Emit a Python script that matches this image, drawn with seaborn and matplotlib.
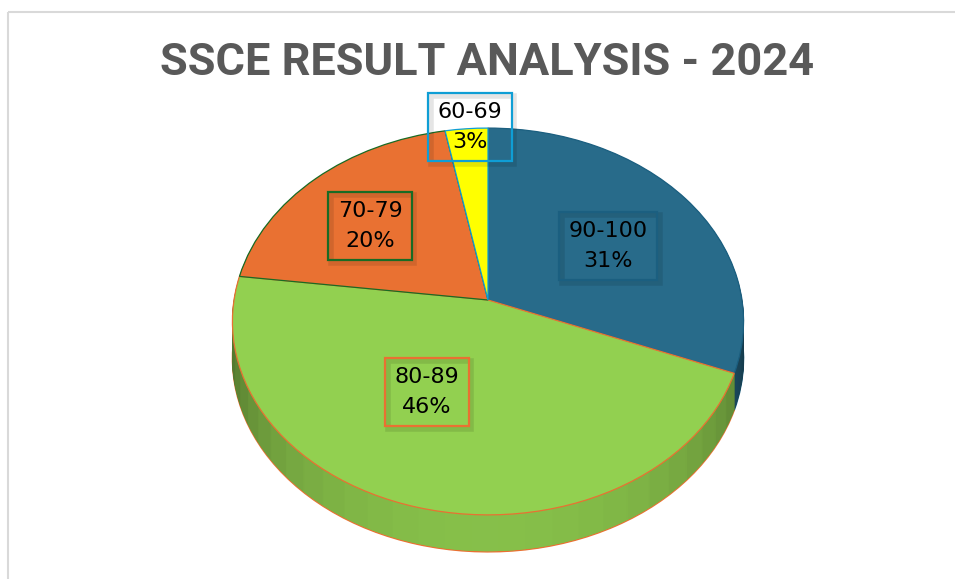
import numpy as np
import matplotlib
matplotlib.use("Agg")
import matplotlib.pyplot as plt
import seaborn as sns
from matplotlib import transforms as mtransforms
from matplotlib import patheffects as pe
from matplotlib.patches import Rectangle
from matplotlib.colors import to_rgb

# ---------------- data ----------------
categories = ["90-100", "80-89", "70-79", "60-69"]
shares = [31, 46, 20, 3]
pct_labels = ["31%", "46%", "20%", "3%"]
title_text = "SSCE RESULT ANALYSIS - 2024"

# ---------------- style ----------------
face_colors = ["#286b8a", "#92d050", "#e97132", "#ffff00"]
edge_colors = ["#1b5f80", "#e97132", "#196b24", "#0f9ed5"]
label_xy = [(608, 246), (427, 392), (370, 226), (470, 127)]

sns.set_theme(style="white")
plt.rcParams["font.family"] = ["DejaVu Sans"]

W, H = 955, 579
fig = plt.figure(figsize=(W / 100, H / 100), dpi=100)
ax = fig.add_axes([0, 0, 1, 1])

CX, CY, A, B, K, DEPTH = 488, 300, 254, 191, 0.111, 37


class Tilt(mtransforms.Transform):
    """Perspective tilt of the unit pie disk into pixel space."""
    input_dims = 2
    output_dims = 2
    is_separable = False
    has_inverse = False

    def __init__(self, dz=0.0):
        super().__init__()
        self.dz = dz

    def transform_non_affine(self, values):
        v = np.asarray(values, dtype=float).reshape(-1, 2)
        x, y = v[:, 0], v[:, 1]
        s = 1.0 / (1.0 + K * y)
        return np.column_stack([CX + A * x * s, CY - B * y * s + self.dz])


def shade(color, t):
    f = 0.45 + 0.47 * max(0.0, -np.sin(t)) ** 0.8
    r, g, b = to_rgb(color)
    return (r * f, g * f, b * f)


def draw_pie(values, colors, edges, lw, dz, z):
    wedges, _ = ax.pie(values, startangle=90, counterclock=False,
                       colors=colors, radius=1.0,
                       wedgeprops=dict(linewidth=lw))
    for w, ec in zip(wedges, edges):
        w.set_edgecolor(ec)
        w.set_transform(Tilt(dz) + ax.transData)
        w.set_zorder(z)
    return wedges


# side: split slices into thin sub-slices shaded by angle
N_SUB = 30
sub_vals, sub_cols = [], []
total = sum(shares)
cum = 0.0
for val, col in zip(shares, face_colors):
    for j in range(N_SUB):
        part = val / N_SUB
        mid = np.deg2rad(90 - 360 * (cum + part / 2) / total)
        sub_vals.append(part)
        sub_cols.append(shade(col, mid))
        cum += part

# bottom outline layer
mid_cols = [shade(c, np.deg2rad(-90)) for c in face_colors]
draw_pie(shares, mid_cols, edge_colors, 1.0, DEPTH, 1)
layers = np.arange(DEPTH - 1, 0, -1.0)
for i, dz in enumerate(layers):
    draw_pie(sub_vals, sub_cols, sub_cols, 0.6, dz, 2 + i * 0.001)

# top face
draw_pie(shares, face_colors, edge_colors, 0.9, 0, 5)

ax.set_aspect("auto")
ax.set_autoscale_on(False)
ax.set_xlim(0, W)
ax.set_ylim(H, 0)
ax.axis("off")

# chart frame
ax.add_patch(Rectangle((7.5, 11.5), 2000, 2000, fill=False,
                       edgecolor="#d9d9d9", linewidth=1.5, zorder=0))

# title
ax.text(487.5, 63, title_text, ha="center", va="center",
        fontsize=32.5, fontweight="bold", color="#595959",
        family=["Roboto", "DejaVu Sans"], zorder=10)

# data labels
for cat, pct, (lx, ly), ec in zip(categories, pct_labels, label_xy, edge_colors):
    t = ax.text(lx, ly, f"{cat}\n{pct}", ha="center", va="center",
                fontsize=16, color="black", linespacing=1.6, zorder=10,
                bbox=dict(boxstyle="square,pad=0.42", facecolor="none",
                          edgecolor=ec, linewidth=1.6))
    t.get_bbox_patch().set_path_effects([
        pe.SimpleLineShadow(offset=(2, -2), shadow_color="black",
                            alpha=0.1, linewidth=4),
        pe.Normal()])

fig.savefig("out.png", dpi=100)
